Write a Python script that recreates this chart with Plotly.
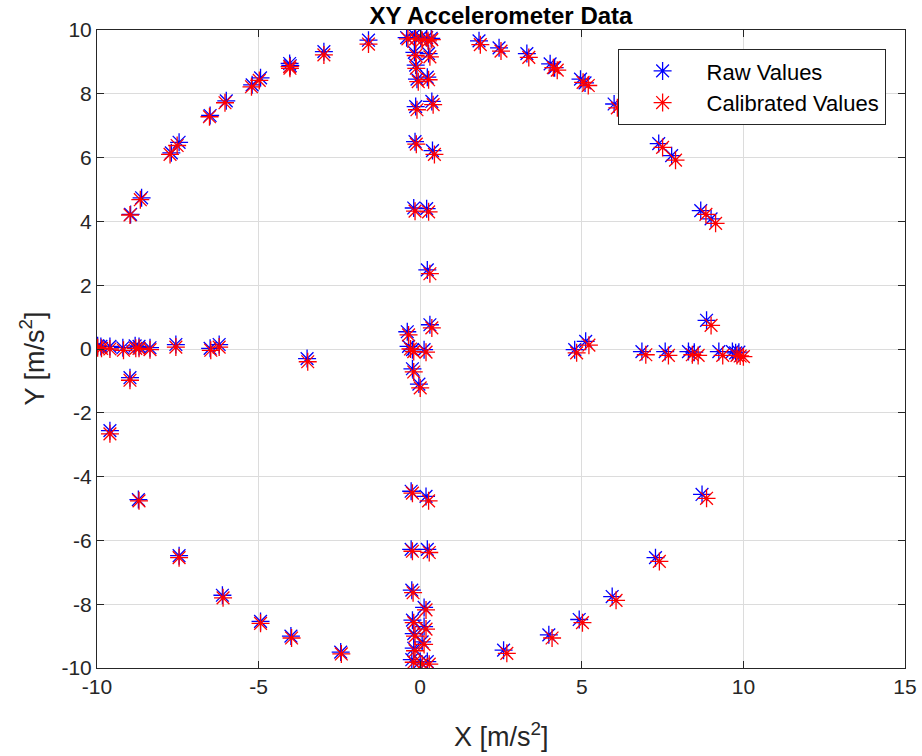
import plotly.graph_objects as go

raw_x = [-8.96, -8.62, -7.70, -7.46, -6.50, -6.00, -5.20, -4.94, -4.04, -4.02, -2.98, -1.60,
         -0.42, -0.18, 0.02, 0.20, 0.34, -0.18, 0.26, -0.14, -0.10, 0.22, -0.14, 0.36, -0.16, 0.38,
         -0.20, 0.20, 0.22, 0.30, -0.40, -0.36, -0.24, 0.12, -0.24, -0.04,
         -9.98, -9.88, -9.60, -9.20, -8.82, -8.70, -8.36, -7.56, -6.50, -6.22, -8.98, -9.60, -3.50,
         4.78, 5.12, 6.86, 7.58, 8.30, 8.48, 9.24, 9.66, 9.86, 9.76, 8.86,
         1.82, 2.44, 3.30, 4.02, 4.16, 4.96, 5.10, 6.00, 7.38, 7.78, 8.68, 9.00,
         -8.72, -7.46, -6.12, -4.94, -4.00, -2.46,
         -0.28, 0.18, -0.28, 0.22, -0.26, 0.12, -0.24, 0.12, -0.20, 0.06, -0.20, -0.26, 0.00, 0.22,
         2.58, 3.98, 4.92, 5.94, 7.28, 8.72]
raw_y = [4.22, 4.74, 6.15, 6.48, 7.32, 7.78, 8.28, 8.50, 8.95, 8.88, 9.32, 9.68,
         9.76, 9.84, 9.78, 9.76, 9.74, 9.30, 9.26, 8.90, 8.46, 8.52, 7.60, 7.76, 6.50, 6.22,
         4.42, 4.40, 2.48, 0.76, 0.54, 0.08, -0.02, -0.02, -0.62, -1.10,
         0.10, 0.08, 0.08, 0.04, 0.10, 0.08, 0.04, 0.14, 0.02, 0.14, -0.90, -2.56, -0.30,
         -0.02, 0.24, -0.08, -0.08, -0.08, -0.10, -0.08, -0.08, -0.10, -0.12, 0.90,
         9.66, 9.44, 9.26, 8.94, 8.82, 8.46, 8.34, 7.68, 6.44, 6.06, 4.34, 4.08,
         -4.72, -6.48, -7.72, -8.54, -9.00, -9.50,
         -4.46, -4.62, -6.28, -6.28, -7.56, -8.10, -8.50, -8.70, -8.92, -9.18, -9.38, -9.74, -9.80, -9.80,
         -9.44, -8.96, -8.48, -7.76, -6.54, -4.56]

cal_x = [-8.98, -8.66, -7.74, -7.52, -6.52, -6.04, -5.22, -4.98, -4.04, -4.03, -2.98, -1.60,
         -0.38, -0.14, 0.06, 0.24, 0.36, -0.14, 0.30, -0.12, -0.06, 0.26, -0.10, 0.40, -0.12, 0.44,
         -0.16, 0.26, 0.30, 0.36, -0.36, -0.30, -0.20, 0.18, -0.20, 0.00,
         -9.98, -9.86, -9.60, -9.18, -8.80, -8.70, -8.36, -7.56, -6.48, -6.22, -8.98, -9.60, -3.48,
         4.84, 5.22, 6.98, 7.68, 8.42, 8.60, 9.36, 9.80, 10.00, 9.90, 9.00,
         1.86, 2.50, 3.36, 4.12, 4.24, 5.04, 5.20, 6.10, 7.50, 7.90, 8.84, 9.14,
         -8.70, -7.46, -6.10, -4.94, -3.98, -2.44,
         -0.24, 0.26, -0.24, 0.28, -0.22, 0.18, -0.20, 0.18, -0.16, 0.12, -0.16, -0.20, 0.06, 0.28,
         2.68, 4.08, 5.02, 6.06, 7.40, 8.86]
cal_y = [4.20, 4.68, 6.10, 6.38, 7.28, 7.72, 8.22, 8.42, 8.85, 8.80, 9.22, 9.56,
         9.72, 9.72, 9.68, 9.66, 9.70, 9.20, 9.16, 8.80, 8.38, 8.44, 7.50, 7.66, 6.42, 6.10,
         4.32, 4.30, 2.36, 0.66, 0.44, 0.00, -0.08, -0.10, -0.72, -1.22,
         0.04, 0.02, 0.00, -0.04, 0.02, 0.02, -0.02, 0.06, -0.04, 0.06, -0.98, -2.66, -0.40,
         -0.12, 0.12, -0.18, -0.20, -0.18, -0.20, -0.20, -0.20, -0.24, -0.22, 0.74,
         9.54, 9.34, 9.14, 8.82, 8.74, 8.36, 8.26, 7.56, 6.32, 5.92, 4.22, 3.94,
         -4.76, -6.54, -7.80, -8.60, -9.06, -9.56,
         -4.52, -4.76, -6.34, -6.38, -7.64, -8.18, -8.58, -8.78, -9.00, -9.26, -9.46, -9.82, -9.88, -9.88,
         -9.54, -9.06, -8.58, -7.88, -6.66, -4.68]

x_ticks = [-10, -5, 0, 5, 10, 15]
y_ticks = [-10, -8, -6, -4, -2, 0, 2, 4, 6, 8, 10]
x_tick_text = ["-10", "-5", "0", "5", "10", "15"]
y_tick_text = ["-10", "-8", "-6", "-4", "-2", "0", "2", "4", "6", "8", "10"]

FONT = "Liberation Sans, Arial, sans-serif"
AX = "#262626"

fig = go.Figure()
fig.add_trace(go.Scatter(
    x=raw_x, y=raw_y, mode="markers", name="Raw Values",
    marker=dict(symbol="asterisk-open", size=15, color="#0000ff",
                line=dict(color="#0000ff", width=1.3)),
))
fig.add_trace(go.Scatter(
    x=cal_x, y=cal_y, mode="markers", name="Calibrated Values",
    marker=dict(symbol="asterisk-open", size=15, color="#ff0000",
                line=dict(color="#ff0000", width=1.3)),
))

axis_common = dict(
    showline=True, linecolor=AX, linewidth=1, mirror="ticks",
    ticks="inside", ticklen=7, tickcolor=AX, tickwidth=1,
    showgrid=True, gridcolor="#dcdcdc", gridwidth=1,
    zeroline=False, automargin=False,
    tickfont=dict(family=FONT, size=21, color=AX),
)

fig.update_layout(
    width=922, height=756,
    margin=dict(l=97, r=17, t=30, b=88),
    paper_bgcolor="white", plot_bgcolor="white",
    title=dict(text="<b>XY Accelerometer Data</b>", x=0.5, xanchor="center",
               xref="paper", y=0.980, yanchor="middle", yref="container",
               font=dict(family=FONT, size=24, color="black")),
    xaxis=dict(range=[-10, 15], tickvals=x_ticks, ticktext=x_tick_text, **axis_common),
    yaxis=dict(range=[-10, 10], tickvals=y_ticks, ticktext=y_tick_text, **axis_common),
    legend=dict(x=0.976, y=0.97, xanchor="right", yanchor="top",
                bgcolor="white", bordercolor=AX, borderwidth=1,
                font=dict(family=FONT, size=22, color="black"),
                itemwidth=78, tracegroupgap=0),
    showlegend=True,
    annotations=[
        dict(text="X [m/s<sup>2</sup>]", xref="paper", yref="paper",
             x=0.5, y=-0.105, xanchor="center", yanchor="middle",
             showarrow=False, font=dict(family=FONT, size=27, color=AX)),
        dict(text="Y [m/s<sup>2</sup>]", xref="paper", yref="paper",
             x=-0.0804, y=0.485, xanchor="center", yanchor="middle", textangle=-90,
             showarrow=False, font=dict(family=FONT, size=27, color=AX)),
    ],
)

fig.write_html("out.html")
